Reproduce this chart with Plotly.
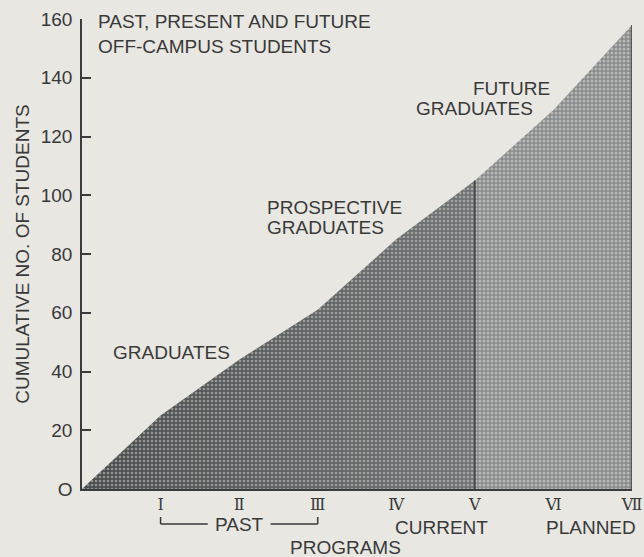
import plotly.graph_objects as go

# ---- data ----
programs = [0, 1, 2, 3, 4, 5, 6, 7]
roman_labels = ["Ⅰ", "Ⅱ", "Ⅲ", "Ⅳ", "Ⅴ", "Ⅵ", "Ⅶ"]
cumulative = [0, 25, 44, 61, 85, 105, 129, 158]
current_index = 5  # program V

y_ticks = [0, 20, 40, 60, 80, 100, 120, 140, 160]
y_ticklabels = ["O", "20", "40", "60", "80", "100", "120", "140", "160"]

BG = "#e9e7e2"
INK = "#383939"
FONT = "Liberation Sans"
FS = 19

past_x = programs[: current_index + 1]
past_y = cumulative[: current_index + 1]
fut_x = programs[current_index:]
fut_y = cumulative[current_index:]

fig = go.Figure()

fig.add_trace(go.Scatter(
    x=past_x, y=past_y, mode="lines", line=dict(width=0),
    fill="tozeroy",
    fillgradient=dict(type="horizontal",
                      colorscale=[[0, "#4a4d4d"], [1, "#727575"]]),
    hoverinfo="skip", showlegend=False))
fig.add_trace(go.Scatter(
    x=past_x, y=past_y, mode="lines", line=dict(width=0),
    fill="tozeroy", fillcolor="rgba(0,0,0,0)",
    fillpattern=dict(shape=".", fgcolor="#d6d6d3", bgcolor="rgba(0,0,0,0)",
                     size=4, solidity=0.35),
    hoverinfo="skip", showlegend=False))

fig.add_trace(go.Scatter(
    x=fut_x, y=fut_y, mode="lines", line=dict(width=0),
    fill="tozeroy", fillcolor="#8a8d8d",
    fillpattern=dict(shape=".", fgcolor="#e6e6e3", bgcolor="#878a8a",
                     size=4, solidity=0.45),
    hoverinfo="skip", showlegend=False))

for idx in (current_index, len(programs) - 1):
    fig.add_trace(go.Scatter(
        x=[programs[idx], programs[idx]], y=[0, cumulative[idx]],
        mode="lines", line=dict(color="#3a3c3c", width=1.5),
        hoverinfo="skip", showlegend=False))

fig.update_layout(
    width=644, height=557,
    margin=dict(l=82, r=12, t=19, b=68, autoexpand=False),
    paper_bgcolor=BG, plot_bgcolor=BG,
    font=dict(family=FONT, size=FS, color=INK),
    showlegend=False,
)

fig.update_xaxes(
    range=[0, 7], showgrid=False, zeroline=False, automargin=False,
    showline=True, linecolor="#3a3b3b", linewidth=2,
    tickmode="array", tickvals=programs[1:], ticktext=roman_labels,
    tickfont=dict(family="DejaVu Serif", size=16, color=INK),
    ticks="", ticklabelstandoff=0, fixedrange=True,
)
fig.update_yaxes(
    range=[0, 160], showgrid=False, zeroline=False, automargin=False,
    showline=True, linecolor="#3a3b3b", linewidth=1.5,
    tickmode="array", tickvals=y_ticks, ticktext=y_ticklabels,
    ticks="inside", ticklen=9, tickwidth=1.5, tickcolor="#3a3b3b",
    tickfont=dict(family=FONT, size=FS, color=INK),
    ticklabelstandoff=4,
    title=dict(text="CUMULATIVE NO. OF STUDENTS",
               font=dict(family=FONT, size=FS, color=INK), standoff=6),
    fixedrange=True,
)

def ann(text, x, y, xref="x", yref="y", xanchor="center", yanchor="middle", size=FS):
    fig.add_annotation(text=text, x=x, y=y, xref=xref, yref=yref,
                       xanchor=xanchor, yanchor=yanchor, showarrow=False,
                       font=dict(family=FONT, size=size, color=INK))

ann("PAST, PRESENT AND FUTURE", 14 / 550, (489 - 22) / 470, "paper", "paper", "left")
ann("OFF-CAMPUS STUDENTS", 14 / 550, (489 - 47) / 470, "paper", "paper", "left")

ann("GRADUATES", 1.145, 46.3)
ann("PROSPECTIVE", 2.33, 95.7, xanchor="left")
ann("GRADUATES", 2.33, 88.9, xanchor="left")
ann("FUTURE", 5.46, 136.5)
ann("GRADUATES", 5.0, 129.7)

ann("PAST", 2.0, (489 - 524) / 470, "x", "paper")
ann("CURRENT", (441 - 82) / 78.57, (489 - 527) / 470, "x", "paper")
ann("PLANNED", (591 - 82) / 78.57, (489 - 527) / 470, "x", "paper")
ann("PROGRAMS", (345 - 82) / 550, (489 - 547) / 470, "paper", "paper")

yb_top = (489 - 517) / 470
yb = (489 - 524) / 470
for (x0, y0, x1, y1) in [
    (programs[1], yb_top, programs[1], yb),
    (programs[1], yb, 1.6, yb),
    (2.4, yb, programs[3], yb),
    (programs[3], yb, programs[3], yb_top),
]:
    fig.add_shape(type="line", x0=x0, y0=y0, x1=x1, y1=y1,
                  xref="x", yref="paper",
                  line=dict(color=INK, width=1.5))

page_js = (
    "document.body.style.margin='0';"
    "document.body.style.padding='0';"
    "document.body.style.background='" + BG + "';"
    "document.body.style.overflow='hidden';"
)
fig.write_html("out.html", post_script=page_js,
               config={"displayModeBar": False})
